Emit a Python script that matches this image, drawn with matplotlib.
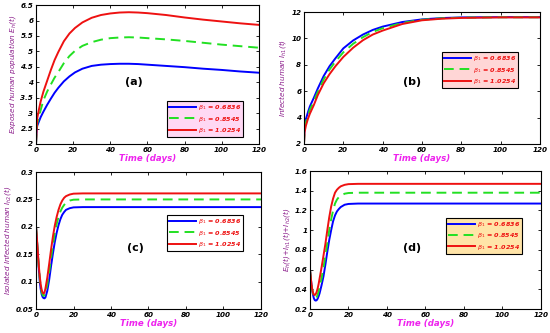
import matplotlib
matplotlib.use("Agg")
import matplotlib.pyplot as plt

# ---------------- data ----------------
t_a = [0, 0.3, 0.7, 1.5, 2.5, 4, 6, 8, 10, 12, 15, 18, 21, 25, 30, 35, 40, 45, 50, 55, 60, 70, 80, 90, 100, 110, 120]
a_blue = [2.0, 2.45, 2.6, 2.72, 2.87, 3.05, 3.27, 3.47, 3.66, 3.82, 4.03, 4.19, 4.32, 4.44, 4.53, 4.57, 4.59, 4.6, 4.6, 4.59, 4.57, 4.53, 4.49, 4.44, 4.4, 4.35, 4.31]
a_green = [2.0, 2.45, 2.68, 2.85, 3.1, 3.42, 3.7, 3.93, 4.15, 4.33, 4.62, 4.85, 5.02, 5.18, 5.3, 5.38, 5.43, 5.45, 5.46, 5.45, 5.43, 5.39, 5.34, 5.28, 5.22, 5.17, 5.12]
a_red = [2.0, 2.45, 2.85, 3.1, 3.38, 3.7, 4.05, 4.4, 4.72, 4.98, 5.33, 5.58, 5.76, 5.94, 6.09, 6.18, 6.23, 6.26, 6.27, 6.26, 6.24, 6.18, 6.1, 6.03, 5.97, 5.91, 5.86]

t_b = [0, 0.3, 1, 2, 3, 5, 7, 10, 13, 16, 20, 25, 30, 35, 40, 50, 60, 70, 80, 100, 120]
b_blue = [2, 3.5, 3.9, 4.4, 4.85, 5.5, 6.2, 7.15, 7.9, 8.5, 9.25, 9.85, 10.3, 10.65, 10.9, 11.25, 11.45, 11.55, 11.6, 11.62, 11.62]
b_green = [2, 3.2, 3.65, 4.15, 4.6, 5.25, 5.95, 6.9, 7.65, 8.25, 8.95, 9.6, 10.1, 10.5, 10.78, 11.18, 11.42, 11.53, 11.58, 11.61, 11.61]
b_red = [2, 2.9, 3.4, 3.9, 4.3, 4.95, 5.7, 6.6, 7.3, 7.9, 8.6, 9.3, 9.87, 10.3, 10.6, 11.1, 11.38, 11.5, 11.56, 11.6, 11.6]

t_cd = [0, 0.5, 1, 1.5, 2, 2.5, 3, 3.5, 4, 4.5, 5, 6, 7, 8, 9, 10, 11, 12, 13, 14, 15, 16, 18, 20, 25, 30, 40, 60, 80, 100, 120]
c_blue = [0.2, 0.175, 0.148, 0.122, 0.100, 0.086, 0.077, 0.072, 0.070, 0.0695, 0.071,
          0.083, 0.103, 0.128, 0.151, 0.172, 0.189, 0.203, 0.214, 0.222, 0.227, 0.231,
          0.234, 0.2355, 0.236, 0.236, 0.236, 0.236, 0.236, 0.236, 0.236]
c_green = [0.2, 0.176, 0.150, 0.125, 0.105, 0.091, 0.081, 0.076, 0.074, 0.075, 0.079,
           0.095, 0.118, 0.143, 0.167, 0.188, 0.205, 0.218, 0.228, 0.235, 0.240, 0.244,
           0.248, 0.2495, 0.250, 0.250, 0.250, 0.250, 0.250, 0.250, 0.250]
c_red = [0.2, 0.178, 0.152, 0.128, 0.109, 0.095, 0.085, 0.080, 0.078, 0.080, 0.087,
         0.107, 0.132, 0.158, 0.182, 0.202, 0.218, 0.231, 0.241, 0.248, 0.253, 0.256,
         0.259, 0.2605, 0.261, 0.261, 0.261, 0.261, 0.261, 0.261, 0.261]

d_blue = [0.6, 0.5, 0.41, 0.35, 0.31, 0.29, 0.285, 0.29, 0.305, 0.33, 0.36,
          0.44, 0.53, 0.65, 0.78, 0.9, 1.0, 1.09, 1.15, 1.19, 1.215, 1.235,
          1.258, 1.266, 1.27, 1.27, 1.27, 1.27, 1.27, 1.27, 1.27]
d_green = [0.6, 0.5, 0.415, 0.36, 0.325, 0.31, 0.31, 0.322, 0.345, 0.38, 0.42,
           0.51, 0.62, 0.74, 0.87, 1.0, 1.11, 1.2, 1.27, 1.31, 1.335, 1.35,
           1.37, 1.377, 1.38, 1.38, 1.38, 1.38, 1.38, 1.38, 1.38]
d_red = [0.6, 0.5, 0.42, 0.37, 0.345, 0.342, 0.352, 0.375, 0.41, 0.455, 0.51,
         0.62, 0.74, 0.86, 1.0, 1.13, 1.24, 1.32, 1.38, 1.41, 1.43, 1.445,
         1.46, 1.467, 1.47, 1.47, 1.47, 1.47, 1.47, 1.47, 1.47]

betas = ["0.6836", "0.8545", "1.0254"]
x_ticks = [0, 20, 40, 60, 80, 100, 120]

panels = [
    dict(rect=[0.0655, 0.5676, 0.405, 0.417], t=t_a, ys=(a_blue, a_green, a_red),
         ylim=(2, 6.5), yticks=[2, 2.5, 3, 3.5, 4, 4.5, 5, 5.5, 6, 6.5],
         yticklabels=["2", "2.5", "3", "3.5", "4", "4.5", "5", "5.5", "6", "6.5"],
         ylabel=r"Exposed human population $E_h$(t)", tag="(a)", tagpos=(0.44, 0.446),
         legbox=(0.587, 0.05), legface="#ffd8f4"),
    dict(rect=[0.5527, 0.5676, 0.429, 0.396], t=t_b, ys=(b_blue, b_green, b_red),
         ylim=(2, 12), yticks=[2, 4, 6, 8, 10, 12],
         yticklabels=["2", "4", "6", "8", "10", "12"],
         ylabel=r"Infected human $I_{h1}$(t)", tag="(b)", tagpos=(0.458, 0.47),
         legbox=(0.585, 0.424), legface="#ffd6d6"),
    dict(rect=[0.0655, 0.072, 0.409, 0.4114], t=t_cd, ys=(c_blue, c_green, c_red),
         ylim=(0.05, 0.3), yticks=[0.05, 0.1, 0.15, 0.2, 0.25, 0.3],
         yticklabels=["0.05", "0.1", "0.15", "0.2", "0.25", "0.3"],
         ylabel=r"Isolated Infected human $I_{h2}$(t)", tag="(c)", tagpos=(0.444, 0.445),
         legbox=(0.582, 0.423), legface="#ffffff"),
    dict(rect=[0.5636, 0.072, 0.42, 0.4144], t=t_cd, ys=(d_blue, d_green, d_red),
         ylim=(0.2, 1.6), yticks=[0.2, 0.4, 0.6, 0.8, 1.0, 1.2, 1.4, 1.6],
         yticklabels=["0.2", "0.4", "0.6", "0.8", "1", "1.2", "1.4", "1.6"],
         ylabel=r"$E_h$(t)+$I_{h1}$(t)+$I_{h2}$(t)", tag="(d)", tagpos=(0.44, 0.44),
         legbox=(0.589, 0.40), legface="#ffe4a8"),
]

colors = ["#0000ff", "#22e022", "#ee1111"]
styles = ["-", (0, (5, 3)), "-"]

plt.rcParams['mathtext.fontset'] = 'dejavusans'
plt.rcParams['mathtext.default'] = 'it'

fig = plt.figure(figsize=(5.5, 3.33), dpi=100)

for p in panels:
    ax = fig.add_axes(p["rect"])
    for y, c, ls, b in zip(p["ys"], colors, styles, betas):
        ax.plot(p["t"], y, color=c, linestyle=ls, linewidth=1.4,
                label=r"$\beta_1$ = " + b)
    ax.set_xlim(0, 120)
    ax.set_ylim(*p["ylim"])
    ax.set_xticks(x_ticks)
    ax.set_xticklabels([str(v) for v in x_ticks], fontsize=5.2, fontweight="bold", fontstyle="italic")
    ax.set_yticks(p["yticks"])
    ax.set_yticklabels(p["yticklabels"], fontsize=5.2, fontweight="bold", fontstyle="italic")
    ax.tick_params(direction="in", top=True, right=True, length=2.5, width=0.6, pad=2)
    for s in ax.spines.values():
        s.set_linewidth(0.8)
    ax.set_xlabel("Time (days)", color="#ee22ee", fontsize=6.2, fontweight="bold",
                  fontstyle="italic", labelpad=1)
    ax.set_ylabel(p["ylabel"], color="#8a1a8a", fontsize=5.2, fontstyle="italic", labelpad=2)
    ax.text(p["tagpos"][0], p["tagpos"][1], p["tag"], transform=ax.transAxes,
            ha="center", va="center", fontsize=8, fontweight="bold")
    leg = ax.legend(loc="lower left", bbox_to_anchor=p["legbox"], fontsize=4.6,
                    frameon=True, fancybox=False, handlelength=4.2, handletextpad=0.3,
                    borderpad=0.35, labelspacing=0.35, borderaxespad=0)
    leg.get_frame().set_facecolor(p["legface"])
    leg.get_frame().set_edgecolor("black")
    leg.get_frame().set_linewidth(0.8)
    leg.get_frame().set_alpha(1)
    for txt in leg.get_texts():
        txt.set_color("#ee1111")
        txt.set_fontweight("bold")
        txt.set_fontstyle("italic")

fig.savefig("out.png", dpi=100)
